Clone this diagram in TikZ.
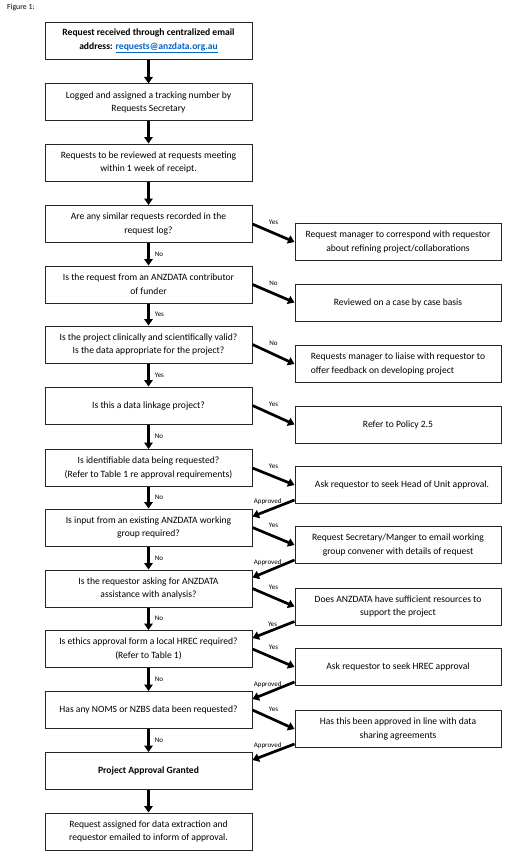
\documentclass[tikz,border=0pt]{standalone}
\usepackage{fontspec}
\setmainfont{Carlito}
\usetikzlibrary{arrows.meta}
\definecolor{linkblue}{HTML}{0563C1}
\tikzset{
  box/.style={draw=black!85, line width=1pt, minimum width=207pt, minimum height=37pt,
    inner sep=2pt, align=center, font=\fontsize{9.6}{13.8}\selectfont},
  rbox/.style={box, minimum width=206pt},
  flow/.style={line width=2.7pt, -{Triangle[length=6.5pt,width=8.5pt]}},
  lab/.style={font=\fontsize{7}{8}\selectfont, inner sep=1pt},
}
\begin{document}
\begin{tikzpicture}[x=1pt, y=-1pt]
\useasboundingbox (0,0) rectangle (515,864);
\node[anchor=north west, font=\fontsize{7.8}{8}\selectfont, inner sep=0pt] (fig) at (7,4) {Figure 1:};

% left column
\node[box, font=\fontsize{9.6}{13.8}\selectfont\bfseries] (L1) at (148.5,41) {Request received through centralized email\\ address: \textcolor{linkblue}{\underline{requests@anzdata.org.au}}};
\node[box] (L2) at (148.5,102.5) {Logged and assigned a tracking number by\\ Requests Secretary};
\node[box] (L3) at (148.5,162.5) {Requests to be reviewed at requests meeting\\ within 1 week of receipt.};
\node[box] (L4) at (148.5,224) {Are any similar requests recorded in the\\ request log?};
\node[box] (L5) at (148.5,284.5) {Is the request from an ANZDATA contributor\\ of funder};
\node[box] (L6) at (148.5,344.5) {Is the project clinically and scientifically valid?\\ Is the data appropriate for the project?};
\node[box] (L7) at (148.5,405.5) {Is this a data linkage project?};
\node[box] (L8) at (148.5,468) {Is identifiable data being requested?\\ (Refer to Table 1 re approval requirements)};
\node[box] (L9) at (148.5,527.5) {Is input from an existing ANZDATA working\\ group required?};
\node[box] (L10) at (148.5,588.5) {Is the requestor asking for ANZDATA\\ assistance with analysis?};
\node[box] (L11) at (148.5,649) {Is ethics approval form a local HREC required?\\ (Refer to Table 1)};
\node[box] (L12) at (148.5,710) {Has any NOMS or NZBS data been requested?};
\node[box, font=\fontsize{9.6}{13.8}\selectfont\bfseries] (L13) at (148.5,771) {Project Approval Granted};
\node[box] (L14) at (148.5,831.5) {Request assigned for data extraction and\\ requestor emailed to inform of approval.};

% right column
\node[rbox] (R1) at (398,242) {Request manager to correspond with requestor\\ about refining project/collaborations};
\node[rbox] (R2) at (398,302.5) {Reviewed on a case by case basis};
\node[rbox, align=left] (R3) at (398,364) {Requests manager to liaise with requestor to\\ offer feedback on developing project};
\node[rbox] (R4) at (398,424.5) {Refer to Policy 2.5};
\node[rbox] (R5) at (398,485) {\hspace*{8pt}Ask requestor to seek Head of Unit approval.};
\node[rbox] (R6) at (398,545) {Request Secretary/Manger to email working\\ group convener with details of request};
\node[rbox] (R7) at (398,606.5) {Does ANZDATA have sufficient resources to\\ support the project};
\node[rbox] (R8) at (398,667) {Ask requestor to seek HREC approval};
\node[rbox] (R9) at (398,729) {Has this been approved in line with data\\ sharing agreements};

% vertical flow
\draw[flow] (L1) -- (L2);
\draw[flow] (L2) -- (L3);
\draw[flow] (L3) -- (L4);
\draw[flow] (L4) -- node[lab, midway, right=4pt] {No} (L5);
\draw[flow] (L5) -- node[lab, midway, right=4pt] {Yes} (L6);
\draw[flow] (L6) -- node[lab, midway, right=4pt] {Yes} (L7);
\draw[flow] (L7) -- node[lab, midway, right=4pt] {No} (L8);
\draw[flow] (L8) -- node[lab, midway, right=4pt] {No} (L9);
\draw[flow] (L9) -- node[lab, midway, right=4pt] {No} (L10);
\draw[flow] (L10) -- node[lab, midway, right=4pt] {No} (L11);
\draw[flow] (L11) -- node[lab, midway, right=4pt] {No} (L12);
\draw[flow] (L12) -- node[lab, midway, right=4pt] {No} (L13);
\draw[flow] (L13) -- (L14);

% branches to the right
\draw[flow] (L4.east) -- node[lab, midway, above=6pt] {Yes} (R1.west);
\draw[flow] (L5.east) -- node[lab, midway, above=6pt] {No} (R2.west);
\draw[flow] (L6.east) -- node[lab, midway, above=6pt] {No} (R3.west);
\draw[flow] (L7.east) -- node[lab, midway, above=6pt] {Yes} (R4.west);
\draw[flow] (L8.east) -- node[lab, midway, above=6pt] {Yes} (R5.west);
\draw[flow] (L9.east) -- node[lab, midway, above=6pt] {Yes} (R6.west);
\draw[flow] (L10.east) -- node[lab, midway, above=6pt] {Yes} (R7.west);
\draw[flow] (L11.east) -- node[lab, midway, above=6pt] {Yes} (R8.west);
\draw[flow] (L12.east) -- node[lab, midway, above=6pt] {Yes} (R9.west);

% returns to the left
\draw[flow] ([yshift=4pt]R5.south west) -- node[lab, pos=0.45, above, xshift=-8pt] {Approved} ([yshift=-8pt]L9.north east);
\draw[flow] ([yshift=4pt]R6.south west) -- node[lab, pos=0.45, above, xshift=-8pt] {Approved} ([yshift=-8pt]L10.north east);
\draw[flow] ([yshift=4pt]R7.south west) -- node[lab, pos=0.45, above, xshift=-3pt] {Yes} ([yshift=-8pt]L11.north east);
\draw[flow] ([yshift=4pt]R8.south west) -- node[lab, pos=0.45, above, xshift=-8pt] {Approved} ([yshift=-8pt]L12.north east);
\draw[flow] ([yshift=4pt]R9.south west) -- node[lab, pos=0.45, above, xshift=-8pt] {Approved} ([yshift=-8pt]L13.north east);
\end{tikzpicture}
\end{document}
